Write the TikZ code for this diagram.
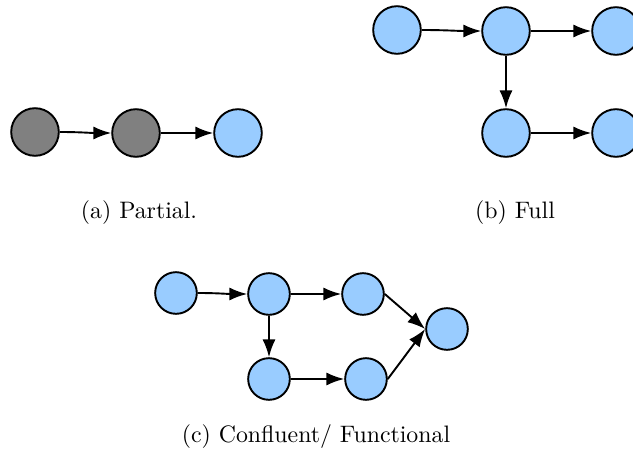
\documentclass[tikz,border=0pt]{standalone}
\usepackage{amsmath}
\usepackage{amssymb}
\usetikzlibrary{arrows.meta}

\definecolor{stateblue}{HTML}{99CCFF}
\definecolor{stategray}{HTML}{808080}

\begin{document}
\begin{tikzpicture}[
        x=0.42pt, y=-0.42pt,
        state/.style={circle, draw=black, thick, fill=stateblue, inner sep=0pt, minimum size=20pt},
        small/.style={state, minimum size=17.5pt},
        done/.style={state, fill=stategray},
        edge/.style={-{Latex[length=7.5pt, width=5.5pt]}, thick},
        caption/.style={font=\normalsize}
    ]
        \useasboundingbox (0, 0) rectangle (633, 452);

        % (a) partial
        \node[done] (a1) at (35, 132) {};
        \node[done] (a2) at (136, 133) {};
        \node[state] (a3) at (238, 133) {};
        \draw[edge] (a1) to[out=0, in=180] (a2);
        \draw[edge] (a2) -- (a3);
        \node[caption] (capA) at (139, 213) {(a) Partial.};

        % (b) full
        \node[state] (b1) at (397, 30) {};
        \node[state] (b2) at (506, 31) {};
        \node[state] (b3) at (616, 31) {};
        \node[state] (b4) at (506, 133) {};
        \node[state] (b5) at (616, 133) {};
        \draw[edge] (b1) to[out=0, in=180] (b2);
        \draw[edge] (b2) -- (b3);
        \draw[edge] (b2) -- (b4);
        \draw[edge] (b4) -- (b5);
        \node[caption] (capB) at (515, 213) {(b) Full};

        % (c) confluent
        \node[small] (c1) at (176, 293) {};
        \node[small] (c2) at (269, 294) {};
        \node[small] (c3) at (363, 294) {};
        \node[small] (c4) at (447, 329) {};
        \node[small] (c5) at (269, 379) {};
        \node[small] (c6) at (366, 379) {};
        \draw[edge] (c1) to[out=0, in=180] (c2);
        \draw[edge] (c2) -- (c3);
        \draw[edge] (c2) -- (c5);
        \draw[edge] (c5) -- (c6);
        \draw[edge] (c3.east) -- (c4.west);
        \draw[edge] (c6.east) -- (c4.west);
        \node[caption] (capC) at (316, 437) {(c) Confluent/ Functional};
    \end{tikzpicture}
\end{document}
